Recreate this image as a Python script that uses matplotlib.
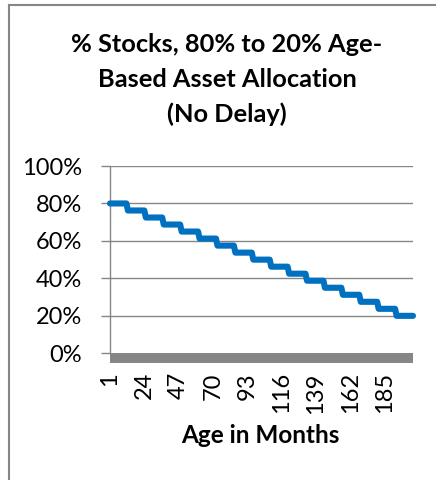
import numpy as np
import matplotlib
matplotlib.use("Agg")
import matplotlib.pyplot as plt
from matplotlib.lines import Line2D
from matplotlib.patches import Rectangle

plt.rcParams['font.family'] = ['Lato', 'DejaVu Sans']

# Stock share held during each year of the glide path (percent)
yearly_stock_pct = [80.0, 76.25, 72.5, 68.75, 65.0, 61.25, 57.5, 53.75, 50.0,
                    46.25, 42.5, 38.75, 35.0, 31.25, 27.5, 23.75, 20.0]
months_per_year = 12
month_ages = np.arange(1, len(yearly_stock_pct) * months_per_year + 1)
stock_pct = np.repeat(yearly_stock_pct, months_per_year)

x_tick_months = [1, 24, 47, 70, 93, 116, 139, 162, 185]
y_tick_values = [0, 20, 40, 60, 80, 100]
y_tick_labels = ['0%', '20%', '40%', '60%', '80%', '100%']

W, H = 436, 480
fig = plt.figure(figsize=(W / 100, H / 100), dpi=100)

# plot area in pixel coordinates
left_px, right_px = 110, 413
top_px, zero_px = 166, 353.3
band_px = 9.2
pct_per_px = 100 / (zero_px - top_px)
y_floor = -band_px * pct_per_px
bottom_px = zero_px + band_px

ax = fig.add_axes([left_px / W, 1 - bottom_px / H,
                   (right_px - left_px) / W, (bottom_px - top_px) / H])
ax.set_xlim(month_ages[0], month_ages[-1])
ax.set_ylim(y_floor, 100)

grey = '#868686'
for v in y_tick_values[1:]:
    ax.axhline(v, color=grey, lw=1.0, zorder=1)

# floor band under the zero line
ax.add_patch(Rectangle((month_ages[0], y_floor), month_ages[-1] - month_ages[0],
                       -y_floor, facecolor=grey, edgecolor='none', zorder=2))

ax.plot(month_ages, stock_pct, color='#0070C0', lw=4.4,
        solid_joinstyle='round', solid_capstyle='round', zorder=3, clip_on=False)

for s in ['top', 'right', 'bottom']:
    ax.spines[s].set_visible(False)
ax.spines['left'].set_color(grey)
ax.spines['left'].set_linewidth(1.0)
ax.spines['left'].set_bounds(0, 100)

ax.set_yticks(y_tick_values)
ax.set_yticklabels(y_tick_labels)
ax.tick_params(axis='y', length=6.5, width=1.0, color=grey, pad=13.5,
               labelsize=17, labelcolor='black')

ax.set_xticks(x_tick_months)
ax.set_xticklabels([str(m) for m in x_tick_months], rotation=90)
ax.tick_params(axis='x', length=0, pad=7, labelsize=17, labelcolor='black')

fig.text(260 / W, 1 - 443 / H, 'Age in Months', ha='center', va='baseline',
         fontsize=17.5, fontweight='bold')

title_lines = ['% Stocks, 80% to 20% Age-', 'Based Asset Allocation', '(No Delay)']
for line, base in zip(title_lines, [51.7, 86.7, 121.5]):
    fig.text(227 / W, 1 - base / H, line, ha='center', va='baseline',
             fontsize=18.3, fontweight='bold')

# chart frame
fig.add_artist(Line2D([8.5 / W, 8.5 / W], [0, 1 - 5 / H], color=grey, lw=1.5))
fig.add_artist(Line2D([8.5 / W, 1], [1 - 5 / H, 1 - 5 / H], color=grey, lw=1.5))

fig.savefig('out.png', dpi=100, facecolor='white')
